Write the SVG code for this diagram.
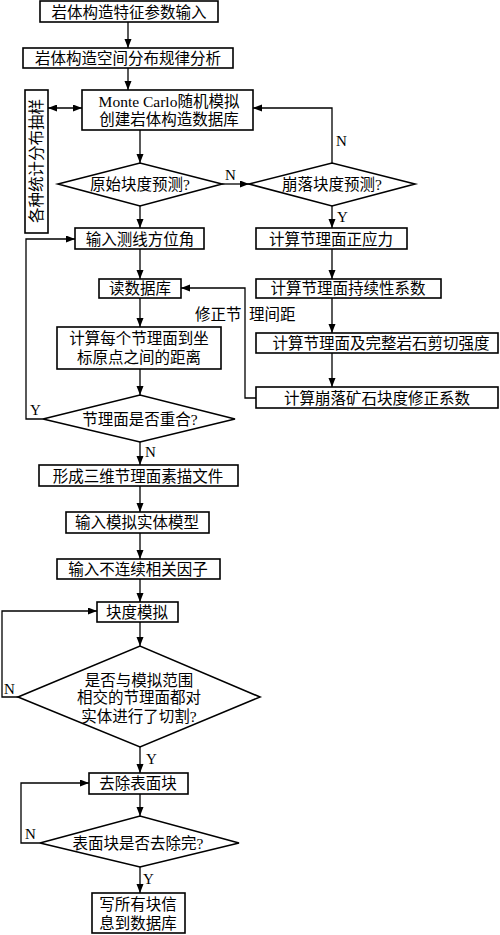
<svg xmlns="http://www.w3.org/2000/svg" width="500" height="935" viewBox="0 0 500 935">
<defs>
<marker id="ah" markerUnits="userSpaceOnUse" markerWidth="10" markerHeight="8" refX="9" refY="3.5" orient="auto">
<path d="M0,0 L9,3.5 L0,7 z" fill="#000"/>
</marker>
<marker id="ahs" markerUnits="userSpaceOnUse" markerWidth="10" markerHeight="8" refX="0" refY="3.5" orient="auto">
<path d="M9,0 L0,3.5 L9,7 z" fill="#000"/>
</marker>
<style>
.b{fill:#fff;stroke:#000;stroke-width:1.6}
.t{font-family:"Liberation Serif","Noto Sans CJK SC",serif;font-size:15.5px;fill:#000;text-anchor:middle}
.l{font-family:"Liberation Serif",serif;font-size:15px;fill:#000}
.c{fill:none;stroke:#000;stroke-width:1.3}
.a{marker-end:url(#ah)}
</style>
</defs>
<rect width="500" height="935" fill="#fff"/>
<g id="connectors">
<path class="c a" d="M128,22 V48"/>
<path class="c a" d="M128,68 V90"/>
<path class="c a" d="M48,108 H82" marker-start="url(#ahs)"/>
<path class="c a" d="M140,130 V163"/>
<path class="c a" d="M222,184 H249"/>
<path class="c a" d="M332,163 V108 H253"/>
<path class="c a" d="M332,206 V228"/>
<path class="c a" d="M140,206 V228"/>
<path class="c a" d="M140,249 V279"/>
<path class="c a" d="M332,249 V279"/>
<path class="c a" d="M140,298 V327"/>
<path class="c a" d="M332,298 V333"/>
<path class="c a" d="M332,353 V387"/>
<path class="c a" d="M256,398 H245 V288 H181"/>
<path class="c a" d="M140,369 V395"/>
<path class="c a" d="M43,419 H26 V239 H75"/>
<path class="c a" d="M140,442 V465"/>
<path class="c a" d="M140,486 V512"/>
<path class="c a" d="M140,533 V559"/>
<path class="c a" d="M140,579 V602"/>
<path class="c a" d="M140,622 V646"/>
<path class="c a" d="M18,697 H2 V611 H97"/>
<path class="c a" d="M140,747 V773"/>
<path class="c a" d="M140,794 V816"/>
<path class="c a" d="M40,843 H21 V783 H89"/>
<path class="c a" d="M140,867 V893"/>
<text class="l" x="225" y="180">N</text>
<text class="l" x="336" y="146">N</text>
<text class="l" x="337" y="222">Y</text>
<text class="l" x="30" y="415">Y</text>
<text class="l" x="145" y="457">N</text>
<text class="l" x="4" y="694">N</text>
<text class="l" x="146" y="764">Y</text>
<text class="l" x="25" y="839">N</text>
<text class="l" x="143" y="884">Y</text>
<text class="t" style="text-anchor:start"><tspan x="195" y="320">修正节</tspan><tspan x="249" y="320">理间距</tspan></text>
</g>
<g id="n1"><rect class="b" x="40" y="1" width="178" height="21"/><text class="t" x="129" y="17.5">岩体构造特征参数输入</text></g>
<g id="n2"><rect class="b" x="23" y="48" width="210" height="20"/><text class="t" x="128" y="63.5">岩体构造空间分布规律分析</text></g>
<g id="n3"><rect class="b" x="82" y="90" width="171" height="40"/><text class="t" x="169" y="106.5">Monte Carlo随机模拟</text><text class="t" x="169" y="124.5">创建岩体构造数据库</text></g>
<g id="n4"><rect class="b" x="25" y="90" width="23" height="143"/><text class="t" transform="translate(36.5,161) rotate(-90)" x="0" y="5.5">各种统计分布抽样</text></g>
<g id="n5"><polygon class="b" points="58,184 140,163 222,184 140,206"/><text class="t" x="140" y="189.5">原始块度预测?</text></g>
<g id="n6"><polygon class="b" points="249,184 332,163 415,184 332,206"/><text class="t" x="332" y="189.5">崩落块度预测?</text></g>
<g id="n7"><rect class="b" x="75" y="228" width="129" height="21"/><text class="t" x="140" y="244.5">输入测线方位角</text></g>
<g id="n8"><rect class="b" x="256" y="228" width="151" height="21"/><text class="t" x="331" y="244.5">计算节理面正应力</text></g>
<g id="n9"><rect class="b" x="99" y="279" width="82" height="19"/><text class="t" x="140" y="294">读数据库</text></g>
<g id="n10"><rect class="b" x="256" y="279" width="185" height="19"/><text class="t" x="348" y="294">计算节理面持续性系数</text></g>
<g id="n11"><rect class="b" x="57" y="327" width="164" height="42"/><text class="t" x="139" y="343.5">计算每个节理面到坐</text><text class="t" x="139" y="362.5">标原点之间的距离</text></g>
<g id="n12"><rect class="b" x="256" y="333" width="242" height="20"/><text class="t" x="381" y="348.5">计算节理面及完整岩石剪切强度</text></g>
<g id="n13"><rect class="b" x="256" y="387" width="242" height="21"/><text class="t" x="377" y="403.5">计算崩落矿石块度修正系数</text></g>
<g id="n14"><polygon class="b" points="43,419 140,395 235,419 140,442"/><text class="t" x="140" y="424.5">节理面是否重合?</text></g>
<g id="n15"><rect class="b" x="39" y="465" width="199" height="21"/><text class="t" x="138" y="481.5">形成三维节理面素描文件</text></g>
<g id="n16"><rect class="b" x="66" y="512" width="143" height="21"/><text class="t" x="137" y="527.5">输入模拟实体模型</text></g>
<g id="n17"><rect class="b" x="57" y="559" width="163" height="20"/><text class="t" x="138" y="574.5">输入不连续相关因子</text></g>
<g id="n18"><rect class="b" x="97" y="602" width="81" height="20"/><text class="t" x="137" y="617.5">块度模拟</text></g>
<g id="n19"><polygon class="b" points="18,697 140,646 260,697 140,747"/><text class="t" x="139" y="685.5">是否与模拟范围</text><text class="t" x="139" y="702.5">相交的节理面都对</text><text class="t" x="139" y="721.5">实体进行了切割?</text></g>
<g id="n20"><rect class="b" x="89" y="773" width="99" height="21"/><text class="t" x="138" y="788.5">去除表面块</text></g>
<g id="n21"><polygon class="b" points="40,843 140,816 239,843 140,867"/><text class="t" x="138" y="848.5">表面块是否去除完?</text></g>
<g id="n22"><rect class="b" x="92" y="893" width="93" height="40"/><text class="t" x="138" y="909.5">写所有块信</text><text class="t" x="138" y="928.5">息到数据库</text></g>
</svg>
